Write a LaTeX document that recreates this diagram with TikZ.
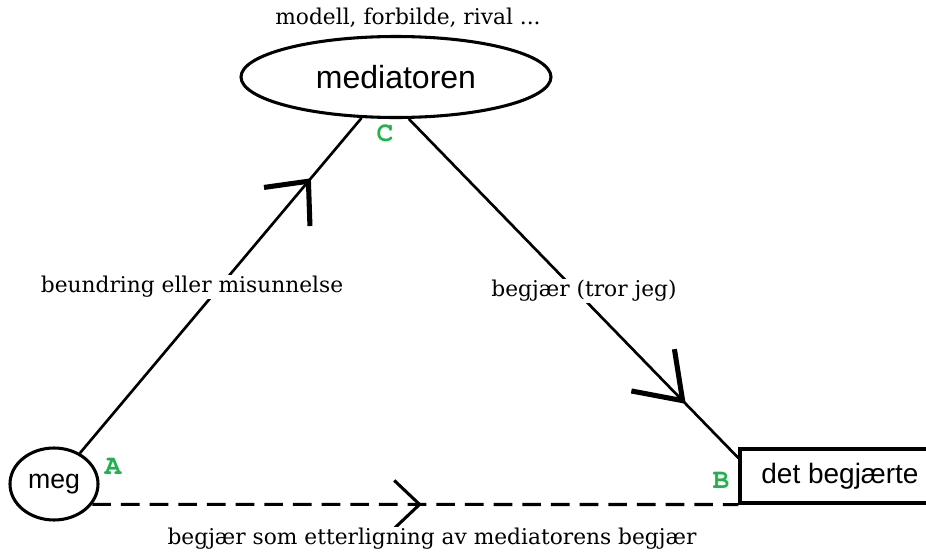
\documentclass[tikz,border=0pt]{standalone}
\usepackage{fontspec}
\setmainfont{DejaVu Serif}
\newfontfamily\sansfnt{Liberation Sans}
\newfontfamily\monofnt{TeX Gyre Cursor}
\usetikzlibrary{arrows.meta,decorations.markings,shapes.geometric}
\definecolor{ptgreen}{RGB}{34,177,76}
\begin{document}
\begin{tikzpicture}[x=0.75pt,y=0.75pt,yscale=-1,xscale=1,
	ring/.style={draw,ellipse,line width=2.3pt,inner sep=0pt},
	line/.style={line width=2pt},
	lbl/.style={fill=white,inner sep=1pt,font=\fontsize{16.3}{19}\selectfont},
	pt/.style={text=ptgreen,font=\monofnt\bfseries\fontsize{21}{24}\selectfont},
	barb/.style={postaction={decorate},decoration={markings,mark=at position #1 with {\arrow{Straight Barb[length=25pt,width=45pt,line width=3.8pt]}}}},
	flatbarb/.style={postaction={decorate},decoration={markings,mark=at position #1 with {\arrow{Straight Barb[length=19pt,width=36pt,line width=2.3pt]}}}}]
	\useasboundingbox (0,0) rectangle (926,554);

	% Shapes
	\node [ring,minimum width=232.5pt,minimum height=60.75pt,font=\sansfnt\fontsize{24}{28}\selectfont] (mediator) at (396,77) {mediatoren};
	\node [ring,minimum width=66pt,minimum height=54pt,font=\sansfnt\fontsize{20}{24}\selectfont] (meg) at (54,484) {meg};
	\node [draw,line width=2.3pt,minimum width=150pt,minimum height=40.5pt,font=\sansfnt\fontsize{21}{24}\selectfont] (objekt) at (840,476) {det begjærte};

	% Connectors
	\draw [line,barb=0.82] (meg) -- (mediator);
	\draw [line,postaction={decorate},decoration={markings,mark=at position 0.84 with {\arrow{Straight Barb[length=32pt,width=45pt,line width=3.8pt]}}}] (mediator.-73) -- (objekt.170);
	\draw [line width=2.3pt,dash pattern={on 14pt off 7.5pt},flatbarb=0.51] (meg.-28) -- (objekt.south west);

	% Text Node
	\node [lbl] (roller) at (408,18) {modell, forbilde, rival ...};
	\node [lbl] (beundring) at (192,287) {beundring eller misunnelse};
	\node [lbl] (tror) at (584,291) {begjær (tror jeg)};
	\node [lbl] (etterligning) at (432,539) {begjær som etterligning av mediatorens begjær};

	% Points
	\node [pt] (ptA) at (113,466) {A};
	\node [pt] (ptB) at (721,480) {B};
	\node [pt] (ptC) at (385,133) {C};
\end{tikzpicture}
\end{document}
